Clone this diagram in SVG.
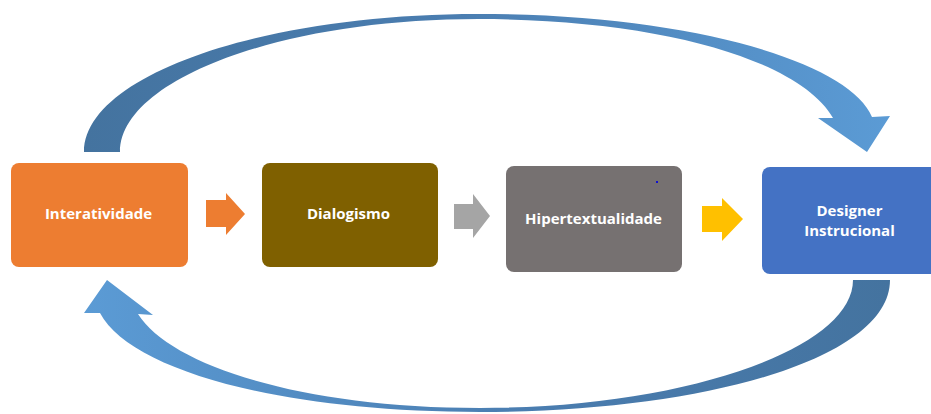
<svg xmlns="http://www.w3.org/2000/svg" width="931" height="414" viewBox="0 0 931 414">
  <style>
    .lbl { font-family: "Open Sans", "Liberation Sans", sans-serif; font-weight: bold; font-size: 15px; fill: #ffffff; text-anchor: middle; }
    .box { stroke: none; }
  </style>
  <defs>
    <linearGradient id="gTop" x1="84" y1="0" x2="890" y2="0" gradientUnits="userSpaceOnUse">
      <stop offset="0" stop-color="#44739F"/>
      <stop offset="0.45" stop-color="#4A7DB0"/>
      <stop offset="1" stop-color="#5B9BD5"/>
    </linearGradient>
    <linearGradient id="gBot" x1="84" y1="0" x2="890" y2="0" gradientUnits="userSpaceOnUse">
      <stop offset="0" stop-color="#5B9BD5"/>
      <stop offset="0.55" stop-color="#4A7DB0"/>
      <stop offset="1" stop-color="#44739F"/>
    </linearGradient>
  </defs>
  <rect width="931" height="414" fill="#ffffff"/>

  <g id="connectors">
    <!-- top curved arrow: Interatividade -> Designer Instrucional -->
    <path fill="url(#gTop)" d="M84,152 C84,76 261,14 478,14 C690,14 850,62 872,117 L890,116 L867,152 L818,118 L833,118 C800,60 660,19 478,19 C280,19 120,80 120,152 Z"/>
    <!-- bottom curved arrow: Designer Instrucional -> Interatividade -->
    <path fill="url(#gBot)" d="M890,280 C890,360 700,412 480,412 C280,412 130,370 100,313 L84,313 L107,280 L153,315 L138,314 C170,365 300,408 480,408 C680,408 853,350 853,280 Z"/>
    <!-- straight block arrows -->
    <polygon fill="#ED7D31" points="206,200 226,200 226,193 245,214 226,235 226,227 206,227"/>
    <polygon fill="#A5A5A5" points="454,204 473,204 473,194 490,216 473,238 473,229 454,229"/>
    <polygon fill="#FFC000" points="702,206 722,206 722,198 743,219 722,241 722,232 702,232"/>
  </g>

  <g id="node-interatividade">
    <rect class="box" x="11" y="163" width="177" height="104" rx="8" fill="#ED7D31"/>
    <text class="lbl" x="98.5" y="218.5">Interatividade</text>
  </g>
  <g id="node-dialogismo">
    <rect class="box" x="262" y="163" width="176" height="104" rx="8" fill="#7F6000"/>
    <text class="lbl" x="348.5" y="218.5">Dialogismo</text>
  </g>
  <g id="node-hipertextualidade">
    <rect class="box" x="506" y="166" width="176" height="106" rx="8" fill="#767171"/>
    <text class="lbl" x="593.5" y="223.5">Hipertextualidade</text>
    <rect x="656" y="181" width="2" height="2" fill="#1010D0"/>
  </g>
  <g id="node-designer">
    <rect class="box" x="762" y="167" width="176" height="107" rx="8" fill="#4472C4"/>
    <text class="lbl" x="849.5" y="215.5">Designer</text>
    <text class="lbl" x="849.5" y="235.5">Instrucional</text>
  </g>
</svg>
